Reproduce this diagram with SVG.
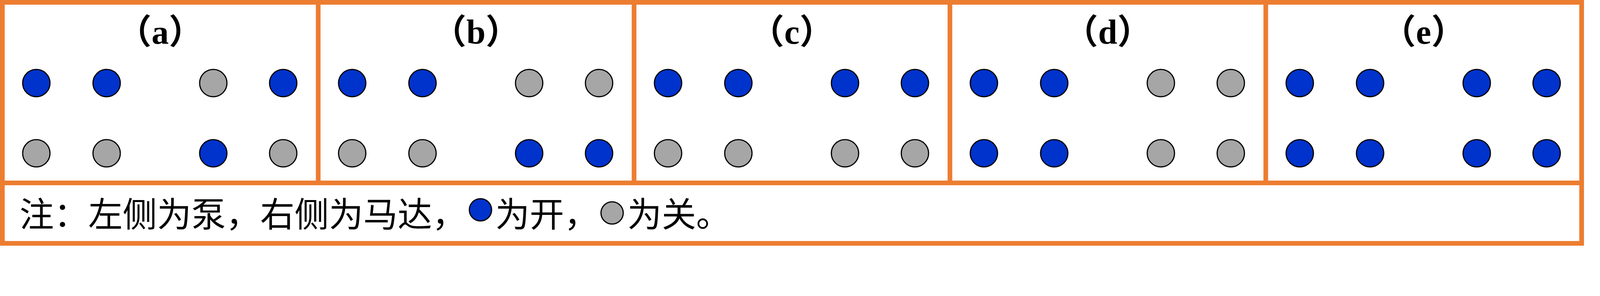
<svg xmlns="http://www.w3.org/2000/svg" width="5824" height="759" viewBox="0 0 5824 759">
<style>
.frame{fill:none;stroke:#ED7D31;stroke-width:12}
.div{stroke:#ED7D31;stroke-width:12}
.on{fill:#0033CC;stroke:#000;stroke-width:3}
.off{fill:#A6A6A6;stroke:#000;stroke-width:3}
.title{font-family:"Liberation Serif","Noto Sans CJK SC",serif;font-weight:bold;font-size:88px;text-anchor:middle;fill:#000}
.note{font-family:"Noto Sans CJK SC","Noto Sans CJK JP",sans-serif;font-size:88px;fill:#000}
</style>
<rect width="5824" height="759" fill="#fff"/>
<g id="connectors">
<rect class="frame" x="6" y="6" width="4043" height="618"/>
<line class="div" x1="6" y1="469" x2="4049" y2="469"/>
<line class="div" x1="814.6" y1="6" x2="814.6" y2="469"/>
<line class="div" x1="1623.2" y1="6" x2="1623.2" y2="469"/>
<line class="div" x1="2431.8" y1="6" x2="2431.8" y2="469"/>
<line class="div" x1="3240.4" y1="6" x2="3240.4" y2="469"/>
</g>
<g id="panel-a">
<text class="title" x="410" y="112">（a）</text>
<circle class="on" cx="93" cy="213" r="35"/><circle class="on" cx="273" cy="213" r="35"/><circle class="off" cx="546" cy="213" r="35"/><circle class="on" cx="725" cy="213" r="35"/>
<circle class="off" cx="93" cy="393" r="35"/><circle class="off" cx="273" cy="393" r="35"/><circle class="on" cx="546" cy="393" r="35"/><circle class="off" cx="725" cy="393" r="35"/>
</g>
<g id="panel-b" transform="translate(808.6,0)">
<text class="title" x="410" y="112">（b）</text>
<circle class="on" cx="93" cy="213" r="35"/><circle class="on" cx="273" cy="213" r="35"/><circle class="off" cx="546" cy="213" r="35"/><circle class="off" cx="725" cy="213" r="35"/>
<circle class="off" cx="93" cy="393" r="35"/><circle class="off" cx="273" cy="393" r="35"/><circle class="on" cx="546" cy="393" r="35"/><circle class="on" cx="725" cy="393" r="35"/>
</g>
<g id="panel-c" transform="translate(1617.2,0)">
<text class="title" x="410" y="112">（c）</text>
<circle class="on" cx="93" cy="213" r="35"/><circle class="on" cx="273" cy="213" r="35"/><circle class="on" cx="546" cy="213" r="35"/><circle class="on" cx="725" cy="213" r="35"/>
<circle class="off" cx="93" cy="393" r="35"/><circle class="off" cx="273" cy="393" r="35"/><circle class="off" cx="546" cy="393" r="35"/><circle class="off" cx="725" cy="393" r="35"/>
</g>
<g id="panel-d" transform="translate(2425.8,0)">
<text class="title" x="410" y="112">（d）</text>
<circle class="on" cx="93" cy="213" r="35"/><circle class="on" cx="273" cy="213" r="35"/><circle class="off" cx="546" cy="213" r="35"/><circle class="off" cx="725" cy="213" r="35"/>
<circle class="on" cx="93" cy="393" r="35"/><circle class="on" cx="273" cy="393" r="35"/><circle class="off" cx="546" cy="393" r="35"/><circle class="off" cx="725" cy="393" r="35"/>
</g>
<g id="panel-e" transform="translate(3234.4,0)">
<text class="title" x="410" y="112">（e）</text>
<circle class="on" cx="93" cy="213" r="35"/><circle class="on" cx="273" cy="213" r="35"/><circle class="on" cx="546" cy="213" r="35"/><circle class="on" cx="725" cy="213" r="35"/>
<circle class="on" cx="93" cy="393" r="35"/><circle class="on" cx="273" cy="393" r="35"/><circle class="on" cx="546" cy="393" r="35"/><circle class="on" cx="725" cy="393" r="35"/>
</g>
<g id="note">
<text class="note" x="50" y="581">注：左侧为泵，右侧为马达，</text>
<circle class="on" cx="1230" cy="538" r="28.5"/>
<text class="note" x="1268" y="581">为开，</text>
<circle class="off" cx="1567" cy="546" r="28.5"/>
<text class="note" x="1606" y="581">为关。</text>
</g>
</svg>
